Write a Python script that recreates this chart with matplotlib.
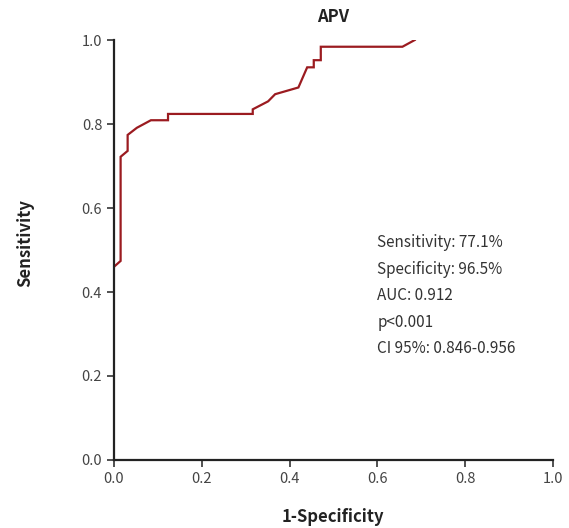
import matplotlib
matplotlib.use("Agg")
import matplotlib.pyplot as plt

plt.rcParams["font.family"] = ["Noto Sans CJK KR", "DejaVu Sans"]

# ROC curve points (1-specificity, sensitivity)
fpr = [0.002, 0.015, 0.015, 0.031, 0.031, 0.052, 0.084, 0.123, 0.123,
       0.316, 0.316, 0.351, 0.367, 0.420, 0.440, 0.455, 0.455, 0.471,
       0.471, 0.657, 0.685]
tpr = [0.462, 0.474, 0.722, 0.736, 0.774, 0.791, 0.809, 0.809, 0.824,
       0.824, 0.835, 0.854, 0.871, 0.887, 0.935, 0.935, 0.952, 0.952,
       0.984, 0.984, 1.000]

stats = ["Sensitivity: 77.1%", "Specificity: 96.5%", "AUC: 0.912",
         "p<0.001", "CI 95%: 0.846-0.956"]
ticks = [0.0, 0.2, 0.4, 0.6, 0.8, 1.0]

fig = plt.figure(figsize=(5.69, 5.28), dpi=100)
ax = fig.add_axes([0.2004, 0.1288, 0.7715, 0.7954])

ax.plot(fpr, tpr, color="#9b1b20", linewidth=1.6, solid_joinstyle="miter")

ax.set_xlim(0, 1)
ax.set_ylim(0, 1)
ax.set_xticks(ticks)
ax.set_yticks(ticks)
ax.set_xticklabels([f"{t:.1f}" for t in ticks])
ax.set_yticklabels([f"{t:.1f}" for t in ticks])
ax.tick_params(colors="#333333", labelcolor="#444444", labelsize=10.5,
               length=5, width=1.2, direction="out")

for side in ["top", "right"]:
    ax.spines[side].set_visible(False)
for side in ["left", "bottom"]:
    ax.spines[side].set_linewidth(1.6)
    ax.spines[side].set_color("#222222")

# title and axis labels placed in figure pixels
fig.text(333 / 569, 1 - 17 / 528, "APV", fontsize=12, fontweight="bold",
         color="#222222", ha="center", va="center")
fig.text(333 / 569, 1 - 517 / 528, "1-Specificity", fontsize=12,
         fontweight="bold", color="#222222", ha="center", va="center")
fig.text(25 / 569, 1 - 243 / 528, "Sensitivity", fontsize=12,
         fontweight="bold", color="#222222", ha="center", va="center",
         rotation=90)

# stats block
y0 = 0.517
for i, s in enumerate(stats):
    ax.text(0.600, y0 - i * 0.063, s, fontsize=11, color="#333333",
            va="center", ha="left")

fig.savefig("out.png", dpi=100)
